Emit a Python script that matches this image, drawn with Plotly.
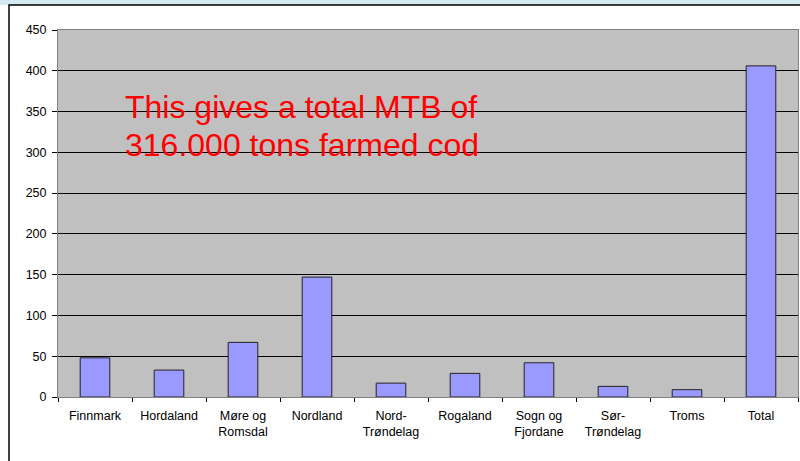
import plotly.graph_objects as go

categories = ["Finnmark", "Hordaland", "Møre og<br>Romsdal", "Nordland", "Nord-<br>Trøndelag",
              "Rogaland", "Sogn og<br>Fjordane", "Sør-<br>Trøndelag", "Troms", "Total"]
values = [48, 33, 67, 147, 17, 29, 42, 13, 9, 406]
y_ticks = [0, 50, 100, 150, 200, 250, 300, 350, 400, 450]
note_lines = ["This gives a total MTB of", "316.000 tons farmed cod"]

fig = go.Figure()
fig.add_trace(go.Bar(
    x=categories, y=values,
    marker=dict(color="#9999FF", line=dict(color="#222222", width=1)),
    width=0.4,
))

L, R, T, B = 58, 2, 30, 64
W, H = 800, 461
pw, ph = W - L - R, H - T - B

def px_x(p):
    return (p - L) / pw

def px_y(p):
    return (H - B - p) / ph

fig.update_layout(
    width=W, height=H,
    margin=dict(l=L, r=R, t=T, b=B),
    paper_bgcolor="white",
    plot_bgcolor="#C0C0C0",
    showlegend=False,
    font=dict(family="Liberation Sans, Arial, sans-serif", size=12.5, color="#000000"),
    xaxis=dict(
        type="category",
        tickson="boundaries",
        ticks="outside", ticklen=4, tickcolor="#000000",
        showline=True, linecolor="#808080", mirror=True,
        showgrid=False,
        tickfont=dict(size=12.5),
        ticklabelstandoff=7,
    ),
    yaxis=dict(
        range=[0, 450],
        tickvals=y_ticks,
        ticks="outside", ticklen=5, tickcolor="#000000",
        showline=True, linecolor="#808080", mirror=True,
        showgrid=True, gridcolor="#000000", gridwidth=1,
        zeroline=True, zerolinecolor="#000000", zerolinewidth=1,
        tickfont=dict(size=12.5),
        ticklabelstandoff=3,
    ),
    shapes=[
        dict(type="rect", xref="paper", yref="paper",
             x0=px_x(-5), x1=px_x(805), y0=px_y(5), y1=px_y(-5),
             fillcolor="#D2EAF0", line=dict(width=0), layer="below"),
        dict(type="rect", xref="paper", yref="paper",
             x0=px_x(9), x1=px_x(830), y0=px_y(480), y1=px_y(5),
             fillcolor="rgba(0,0,0,0)", line=dict(color="#000000", width=1.5), layer="above"),
    ],
    annotations=[
        dict(text=note_lines[0], xref="paper", yref="y", x=px_x(123), y=356,
             xanchor="left", yanchor="middle", showarrow=False,
             font=dict(size=32, color="#FF0000", family="Liberation Sans, Arial, sans-serif")),
        dict(text=note_lines[1], xref="paper", yref="y", x=px_x(123), y=309,
             xanchor="left", yanchor="middle", showarrow=False,
             font=dict(size=32, color="#FF0000", family="Liberation Sans, Arial, sans-serif")),
    ],
    bargap=0.6,
)

fig.write_html("out.html", config={"displayModeBar": False},
               post_script="document.body.style.margin='0';document.body.style.overflow='hidden';")
